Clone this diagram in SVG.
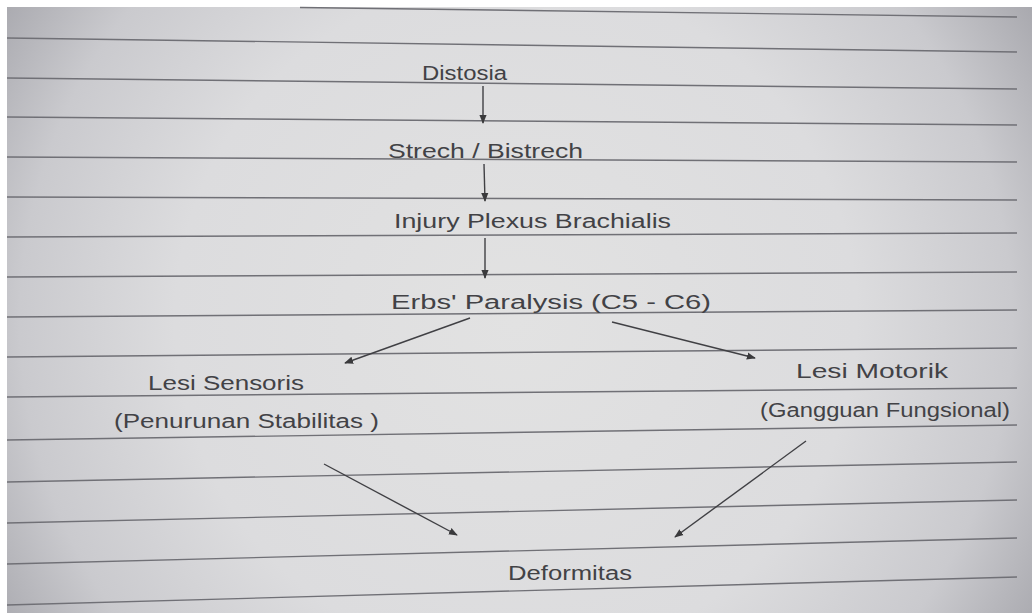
<svg xmlns="http://www.w3.org/2000/svg" width="1032" height="613" viewBox="0 0 1032 613">
  <defs>
    <radialGradient id="vig" cx="516" cy="320" r="620" gradientUnits="userSpaceOnUse">
      <stop offset="0" stop-color="#e2e2e2"/>
      <stop offset="0.55" stop-color="#dcdcde"/>
      <stop offset="0.8" stop-color="#cacace"/>
      <stop offset="1" stop-color="#a4a4aa"/>
    </radialGradient>
    <marker id="ah" viewBox="0 0 10 10" refX="9" refY="5" markerWidth="9" markerHeight="9" markerUnits="userSpaceOnUse" orient="auto">
      <path d="M0,1 L10,5 L0,9 Z" fill="#3a3a3c"/>
    </marker>
    <style>
      .rule { stroke: #707076; stroke-width: 1.4; fill: none; }
      .lbl { font-family: "Liberation Sans", "DejaVu Sans", sans-serif; font-size: 20px; fill: #424246; }
      .edge { stroke: #404044; stroke-width: 1.4; fill: none; marker-end: url(#ah); }
    </style>
  </defs>

  <rect x="0" y="0" width="1032" height="613" fill="#ffffff"/>
  <rect x="7" y="7" width="1025" height="606" fill="url(#vig)"/>

  <g id="ruled-lines">
    <line class="rule" x1="300" y1="7.5" x2="1017" y2="17"/>
    <line class="rule" x1="7" y1="38" x2="1017" y2="52"/>
    <line class="rule" x1="7" y1="78" x2="1017" y2="89"/>
    <line class="rule" x1="7" y1="117" x2="1017" y2="125"/>
    <line class="rule" x1="7" y1="157" x2="1017" y2="162"/>
    <line class="rule" x1="7" y1="197" x2="1017" y2="200"/>
    <line class="rule" x1="7" y1="237" x2="1017" y2="233"/>
    <line class="rule" x1="7" y1="277" x2="1017" y2="272"/>
    <line class="rule" x1="7" y1="317" x2="1017" y2="310"/>
    <line class="rule" x1="7" y1="357" x2="1017" y2="348"/>
    <line class="rule" x1="7" y1="397" x2="1017" y2="388"/>
    <line class="rule" x1="7" y1="440" x2="1017" y2="425"/>
    <line class="rule" x1="7" y1="482" x2="1017" y2="462"/>
    <line class="rule" x1="7" y1="523" x2="1017" y2="500"/>
    <line class="rule" x1="7" y1="564" x2="1017" y2="538"/>
    <line class="rule" x1="7" y1="605" x2="1017" y2="577"/>
  </g>

  <g id="connectors">
    <line class="edge" x1="483" y1="86" x2="483" y2="123"/>
    <line class="edge" x1="484" y1="164" x2="485" y2="201"/>
    <line class="edge" x1="485" y1="238" x2="485" y2="278"/>
    <line class="edge" x1="470" y1="318" x2="345" y2="363"/>
    <line class="edge" x1="612" y1="322" x2="755" y2="358"/>
    <line class="edge" x1="324" y1="464" x2="457" y2="535"/>
    <line class="edge" x1="806" y1="441" x2="675" y2="537"/>
  </g>

  <g id="node-distosia">
    <text class="lbl" x="422" y="80" textLength="85" lengthAdjust="spacingAndGlyphs">Distosia</text>
  </g>
  <g id="node-strech">
    <text class="lbl" x="388" y="158" textLength="195" lengthAdjust="spacingAndGlyphs">Strech / Bistrech</text>
  </g>
  <g id="node-injury">
    <text class="lbl" x="394" y="228" textLength="277" lengthAdjust="spacingAndGlyphs">Injury Plexus Brachialis</text>
  </g>
  <g id="node-erbs">
    <text class="lbl" x="391" y="309" textLength="320" lengthAdjust="spacingAndGlyphs">Erbs' Paralysis (C5 - C6)</text>
  </g>
  <g id="node-lesi-sensoris">
    <text class="lbl" x="148" y="390" textLength="156" lengthAdjust="spacingAndGlyphs">Lesi Sensoris</text>
    <text class="lbl" x="114" y="428" textLength="265" lengthAdjust="spacingAndGlyphs">(Penurunan Stabilitas )</text>
  </g>
  <g id="node-lesi-motorik">
    <text class="lbl" x="796" y="378" textLength="152" lengthAdjust="spacingAndGlyphs">Lesi Motorik</text>
    <text class="lbl" x="760" y="417" textLength="250" lengthAdjust="spacingAndGlyphs">(Gangguan Fungsional)</text>
  </g>
  <g id="node-deformitas">
    <text class="lbl" x="508" y="580" textLength="124" lengthAdjust="spacingAndGlyphs">Deformitas</text>
  </g>
</svg>
